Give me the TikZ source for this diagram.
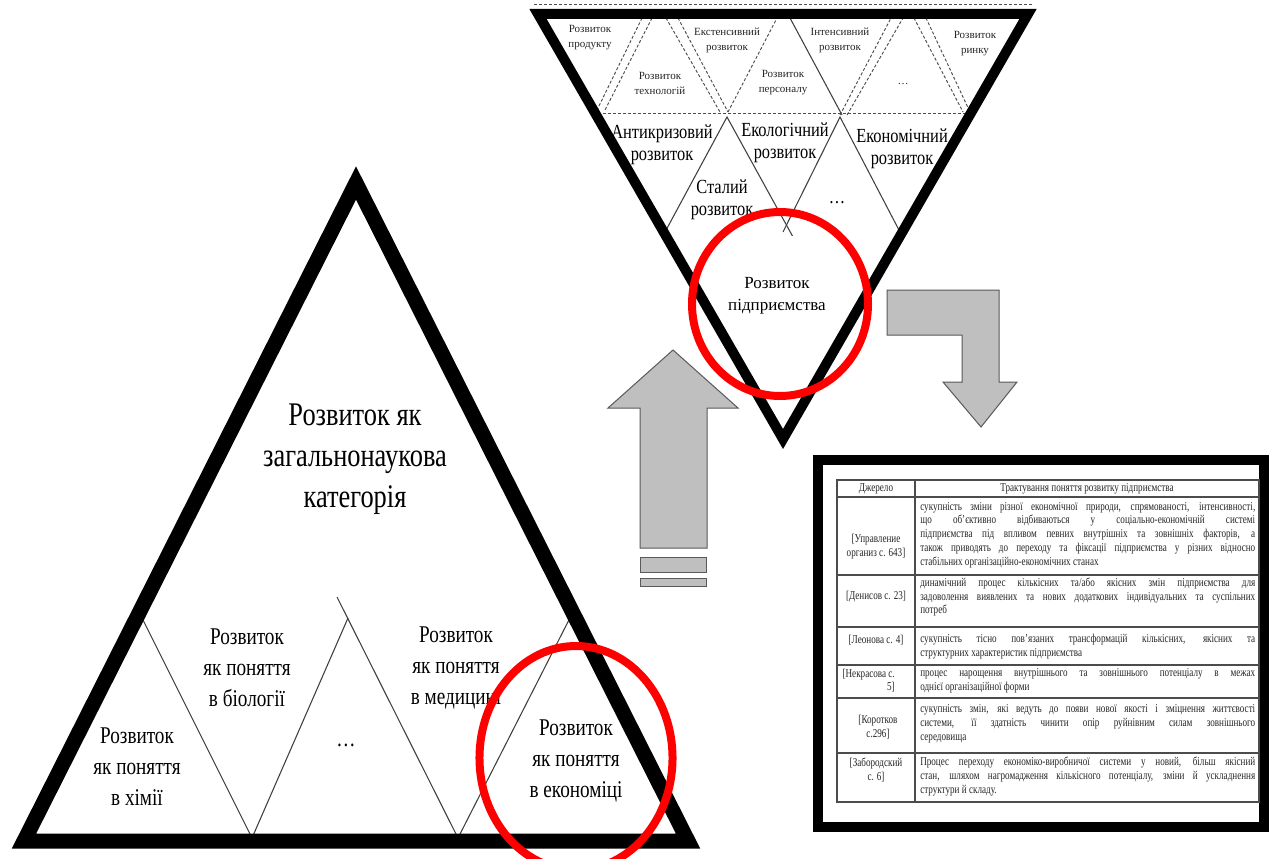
\documentclass[tikz,border=0pt]{standalone}
\usepackage{fontspec}
\setmainfont{Liberation Serif}
\newfontfamily\condA[FakeStretch=0.8]{Liberation Serif}
\newfontfamily\condB[FakeStretch=0.82]{Liberation Serif}
\newfontfamily\condT[FakeStretch=0.76]{Liberation Serif}
\newcommand\jline[1]{\makebox[251.25pt][s]{#1}}
\tikzset{
 bigedge/.style={line width=11.25pt, line join=miter},
 topedge/.style={line width=7.5pt, line join=miter},
 thinline/.style={line width=0.8pt, draw=black!75},
 dline/.style={line width=0.7pt, dash pattern=on 2.25pt off 1.5pt, draw=black!70},
 dblline/.style={draw=black!65, line width=0.5pt, double=white, double distance=1pt},
 grayarrow/.style={fill=gray!50, draw=black!65, line width=0.75pt},
 redring/.style={draw=red, line width=6pt},
 bigtxt/.style={font=\condA\fontsize{24.75}{30.75}\selectfont, align=center, inner sep=0},
 rowtxt/.style={font=\condA\fontsize{18}{23.25}\selectfont, align=center, inner sep=0},
 midtxt/.style={font=\condB\fontsize{15}{16.5}\selectfont, align=center, inner sep=0},
 enttxt/.style={font=\fontsize{12.75}{16.5}\selectfont, align=center, inner sep=0},
 smalltxt/.style={font=\fontsize{8.25}{11.25}\selectfont, align=center, inner sep=0, text=black!85},
 tabtxt/.style={font=\condT\fontsize{9}{10.3}\selectfont, inner sep=0, text=black!85},
 tabgrid/.style={draw=black!70, line width=0.8pt},
}
\begin{document}
\begin{tikzpicture}[x=0.75pt,y=-0.75pt]
\useasboundingbox[fill=white] (0,0) rectangle (1269,859);

% ---------- big triangle (bottom left) ----------
\draw[dblline] (152,596) -- (558,596);
\draw[thinline] (139,612) -- (252,838) -- (348,618);
\draw[thinline] (337,597) -- (458,838) -- (574,610);
\draw[bigedge] (356,183) -- (688,841) -- (24,841) -- cycle;

\node[bigtxt] (gen) at (355,459) {Розвиток як\\загальнонаукова\\категорія};
\node[rowtxt] (chem) at (137,767) {Розвиток\\як поняття\\в хімії};
\node[rowtxt] (bio) at (247,668) {Розвиток\\як поняття\\в біології};
\node[rowtxt] (dots1) at (346,745) {\dots};
\node[rowtxt] (med) at (456,668) {Розвиток\\як поняття\\в медицині};
\node[rowtxt] (eco) at (576,761) {Розвиток\\як поняття\\в економіці};

% ---------- top (inverted) triangle ----------
\draw[dline] (534,4) -- (1034,4);
\draw[dline] (598,113) -- (966,113);
\draw[dline] (642,18) -- (597,110);
\draw[dline] (652,18) -- (605,110);
\draw[dline] (666,18) -- (720,112);
\draw[dline] (678,18) -- (728,112);
\draw[dline] (728,112) -- (777,18);
\draw[thinline] (790,18) -- (842,115);
\draw[dline] (840,115) -- (891,18);
\draw[dline] (847,115) -- (903,18);
\draw[dline] (914,18) -- (963,112);
\draw[dline] (926,18) -- (970,112);

\draw[thinline] (665,232) -- (727,117) -- (793,237);
\draw[thinline] (783,232) -- (840,117) -- (900,232);
\draw[dblline] (670,237) -- (897,237);

\draw[topedge] (538,14) -- (1028,14) -- (783,439) -- cycle;

\node[smalltxt] (prod) at (590,38) {Розвиток\\продукту};
\node[smalltxt] (ext) at (727,40) {Екстенсивний\\розвиток};
\node[smalltxt] (int) at (840,40) {Інтенсивний\\розвиток};
\node[smalltxt] (mkt) at (975,44) {Розвиток\\ринку};
\node[smalltxt] (tech) at (660,83) {Розвиток\\технологій};
\node[smalltxt] (pers) at (783,83) {Розвиток\\персоналу};
\node[smalltxt] (dots2) at (903,84) {\dots};

\node[midtxt] (anti) at (662,145) {Антикризовий\\розвиток};
\node[midtxt] (ecol) at (785,143) {Екологічний\\розвиток};
\node[midtxt] (econ) at (902,149) {Економічний\\розвиток};
\node[midtxt] (sust) at (722,200) {Сталий\\розвиток};
\node[midtxt] (dots3) at (837,203) {\dots};

\node[enttxt] (ent) at (777,296) {Розвиток\\підприємства};

% ---------- gray arrows ----------
\path[grayarrow] (673,350) -- (738,408) -- (707,408) -- (707,548) -- (640,548) -- (640,408) -- (608,408) -- cycle;
\path[grayarrow] (640,557) rectangle (706,572);
\path[grayarrow] (640,578) rectangle (706,586);
\path[grayarrow] (887,290) -- (999,290) -- (999,382) -- (1017,382) -- (981,427) -- (943,382) -- (962,382) -- (962,335) -- (887,335) -- cycle;

% ---------- table ----------
\draw[line width=7.5pt] (818,460) rectangle (1264,827);
\draw[tabgrid] (837,480) rectangle (1259,802);
\draw[tabgrid] (915,480) -- (915,802);
\foreach \yy in {497,575,627,665,698,753} \draw[tabgrid] (837,\yy) -- (1259,\yy);

\node[tabtxt] (h1) at (876,489) {Джерело};
\node[tabtxt] (h2) at (1087,489) {Трактування поняття розвитку підприємства};

\node[tabtxt, align=center] (s1) at (876,546.5) {[Управление\\организ с. 643]};
\node[tabtxt, align=center] (s2) at (876,597) {[Денисов с. 23]};
\node[tabtxt, align=center] (s3) at (876,640) {[Леонова с. 4]};
\node[tabtxt, align=right, anchor=east] (s4) at (895,680.5) {[Некрасова с.\\5]};
\node[tabtxt, align=center] (s5) at (878,727) {[Коротков\\с.296]};
\node[tabtxt, align=center] (s6) at (876,770) {[Забородский\\с. 6]};

\node[tabtxt, align=left, anchor=west] (d1) at (920,535) {\jline{сукупність зміни різної економічної природи, спрямованості, інтенсивності,}\\
\jline{що об’єктивно відбиваються у соціально-економічній системі}\\
\jline{підприємства під впливом певних внутрішніх та зовнішніх факторів, а}\\
\jline{також приводять до переходу та фіксації підприємства у різних відносно}\\
стабільних організаційно-економічних станах};
\node[tabtxt, align=left, anchor=west] (d2) at (920,597) {\jline{динамічний процес кількісних та/або якісних змін підприємства для}\\
\jline{задоволення виявлених та нових додаткових індивідуальних та суспільних}\\
потреб};
\node[tabtxt, align=left, anchor=west] (d3) at (920,646.5) {\jline{сукупність тісно пов’язаних трансформацій кількісних, якісних та}\\
структурних характеристик підприємства};
\node[tabtxt, align=left, anchor=west] (d4) at (920,680.5) {\jline{процес нарощення внутрішнього та зовнішнього потенціалу в межах}\\
однієї організаційної форми};
\node[tabtxt, align=left, anchor=west] (d5) at (920,724) {\jline{сукупність змін, які ведуть до появи нової якості і зміцнення життєвості}\\
\jline{системи, її здатність чинити опір руйнівним силам зовнішнього}\\
середовища};
\node[tabtxt, align=left, anchor=west] (d6) at (920,776.5) {\jline{Процес переходу економіко-виробничої системи у новий, більш якісний}\\
\jline{стан, шляхом нагромадження кількісного потенціалу, зміни й ускладнення}\\
структури й складу.};

% ---------- red rings ----------
\draw[redring] (780,304) ellipse [x radius=66pt, y radius=69pt];
\draw[redring] (576,758) ellipse [x radius=72.4pt, y radius=84pt];
\end{tikzpicture}
\end{document}
